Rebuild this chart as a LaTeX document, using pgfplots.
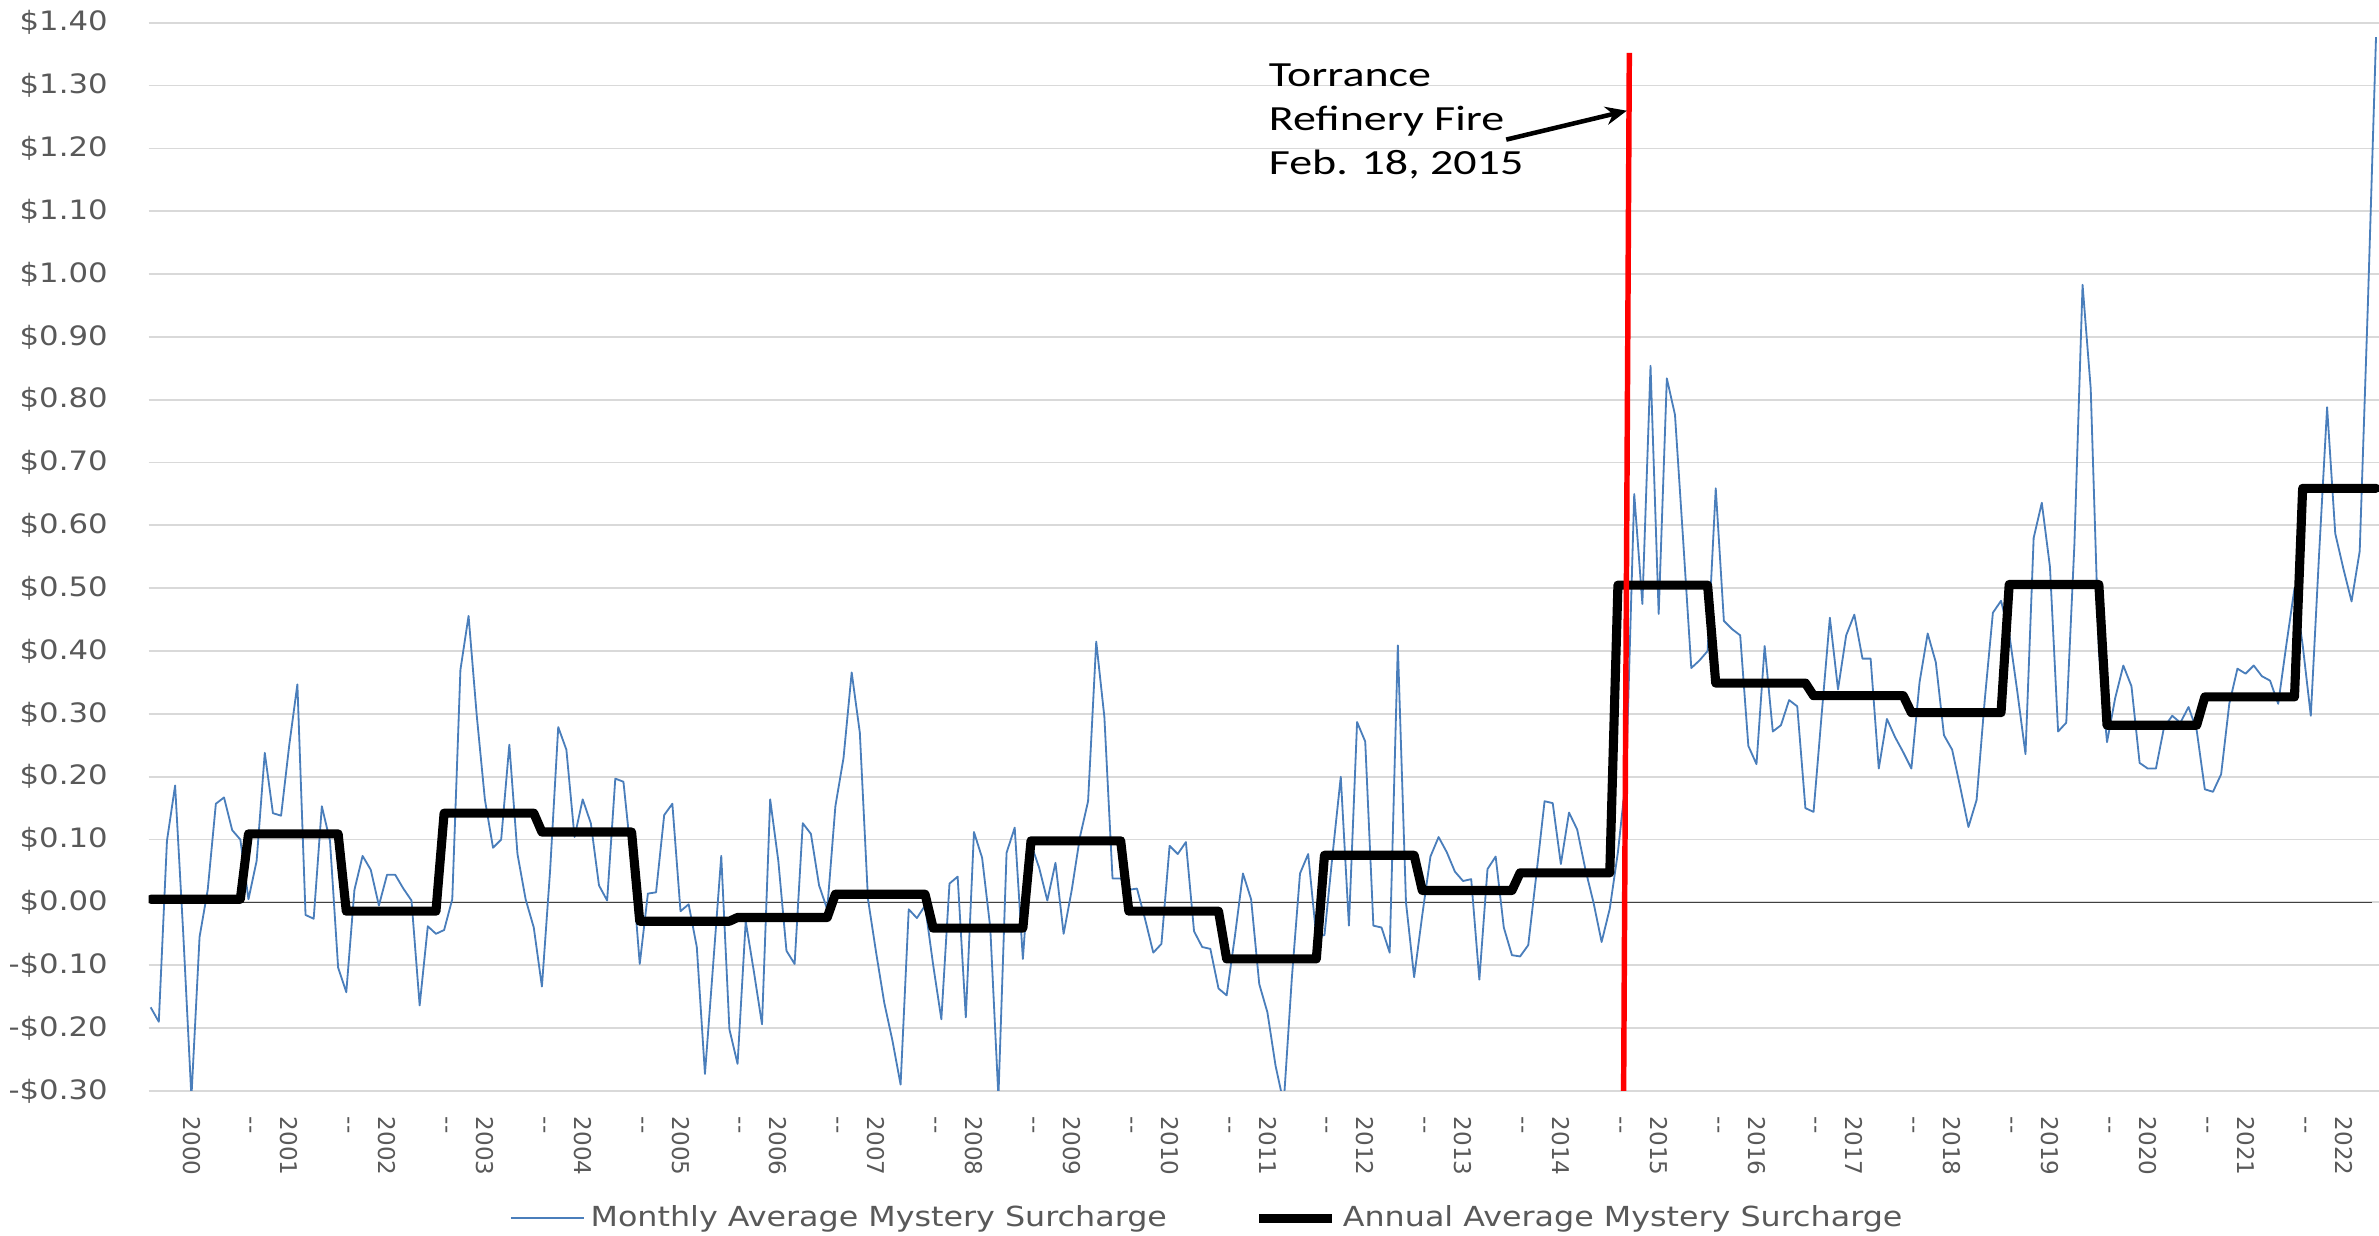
\documentclass[border=0pt]{standalone}
\usepackage{fontspec}
\setmainfont{DejaVu Sans}
\newfontfamily\annfont{Carlito}
\usepackage{graphicx}
\usepackage{pgfplots}
\usepackage{pgfplotstable}
\pgfplotsset{compat=1.18}
\usetikzlibrary{arrows.meta}
\definecolor{tickgray}{HTML}{595959}
\definecolor{gridgray}{HTML}{D9D9D9}
\definecolor{xlblue}{HTML}{4A7EBB}
\newcommand{\sx}[1]{\scalebox{1.15}[1]{#1}}
\newcommand{\dd}{-{}-}

\pgfplotstableread[row sep=\\]{
v\\
-0.167\\ -0.19\\ 0.098\\ 0.186\\ -0.05\\ -0.31\\ -0.055\\ 0.02\\ 0.157\\ 0.167\\ 0.115\\ 0.10\\
0.005\\ 0.066\\ 0.238\\ 0.142\\ 0.138\\ 0.25\\ 0.347\\ -0.02\\ -0.026\\ 0.153\\ 0.098\\ -0.104\\
-0.143\\ 0.02\\ 0.074\\ 0.052\\ -0.005\\ 0.044\\ 0.044\\ 0.022\\ 0.003\\ -0.164\\ -0.038\\ -0.05\\
-0.044\\ 0.005\\ 0.37\\ 0.456\\ 0.298\\ 0.164\\ 0.087\\ 0.10\\ 0.251\\ 0.077\\ 0.005\\ -0.04\\
-0.134\\ 0.05\\ 0.279\\ 0.243\\ 0.104\\ 0.164\\ 0.126\\ 0.027\\ 0.003\\ 0.197\\ 0.192\\ 0.066\\
-0.098\\ 0.014\\ 0.016\\ 0.139\\ 0.157\\ -0.014\\ -0.003\\ -0.071\\ -0.273\\ -0.10\\ 0.074\\ -0.202\\
-0.257\\ -0.03\\ -0.11\\ -0.194\\ 0.164\\ 0.066\\ -0.077\\ -0.098\\ 0.126\\ 0.109\\ 0.027\\ -0.011\\
0.153\\ 0.23\\ 0.366\\ 0.27\\ 0.005\\ -0.08\\ -0.16\\ -0.22\\ -0.29\\ -0.011\\ -0.025\\ -0.005\\
-0.10\\ -0.186\\ 0.03\\ 0.041\\ -0.183\\ 0.112\\ 0.071\\ -0.04\\ -0.31\\ 0.079\\ 0.119\\ -0.09\\
0.093\\ 0.055\\ 0.003\\ 0.063\\ -0.05\\ 0.02\\ 0.104\\ 0.161\\ 0.415\\ 0.295\\ 0.038\\ 0.038\\
0.02\\ 0.022\\ -0.027\\ -0.08\\ -0.066\\ 0.09\\ 0.077\\ 0.096\\ -0.046\\ -0.071\\ -0.074\\ -0.137\\
-0.148\\ -0.055\\ 0.046\\ 0.005\\ -0.13\\ -0.175\\ -0.26\\ -0.32\\ -0.12\\ 0.046\\ 0.077\\ -0.055\\
-0.052\\ 0.077\\ 0.2\\ -0.037\\ 0.287\\ 0.256\\ -0.037\\ -0.04\\ -0.08\\ 0.409\\ 0.0\\ -0.119\\
-0.02\\ 0.073\\ 0.104\\ 0.08\\ 0.049\\ 0.034\\ 0.037\\ -0.123\\ 0.053\\ 0.073\\ -0.04\\ -0.084\\
-0.086\\ -0.068\\ 0.045\\ 0.161\\ 0.158\\ 0.061\\ 0.143\\ 0.116\\ 0.053\\ 0.0\\ -0.063\\ -0.01\\
0.08\\ 0.2\\ 0.65\\ 0.475\\ 0.854\\ 0.459\\ 0.834\\ 0.776\\ 0.577\\ 0.373\\ 0.385\\ 0.4\\
0.659\\ 0.448\\ 0.435\\ 0.425\\ 0.249\\ 0.22\\ 0.408\\ 0.272\\ 0.282\\ 0.322\\ 0.312\\ 0.15\\
0.144\\ 0.3\\ 0.453\\ 0.339\\ 0.425\\ 0.458\\ 0.388\\ 0.388\\ 0.213\\ 0.292\\ 0.263\\ 0.239\\
0.213\\ 0.35\\ 0.428\\ 0.382\\ 0.266\\ 0.243\\ 0.183\\ 0.12\\ 0.163\\ 0.322\\ 0.461\\ 0.48\\
0.428\\ 0.335\\ 0.236\\ 0.58\\ 0.636\\ 0.534\\ 0.272\\ 0.286\\ 0.57\\ 0.983\\ 0.818\\ 0.4\\
0.255\\ 0.325\\ 0.377\\ 0.344\\ 0.222\\ 0.213\\ 0.213\\ 0.279\\ 0.297\\ 0.286\\ 0.311\\ 0.274\\
0.18\\ 0.176\\ 0.204\\ 0.316\\ 0.372\\ 0.364\\ 0.377\\ 0.36\\ 0.353\\ 0.316\\ 0.41\\ 0.5\\
0.41\\ 0.297\\ 0.55\\ 0.788\\ 0.587\\ 0.531\\ 0.479\\ 0.559\\ 0.951\\ 1.377\\
}\monthly

\begin{document}
\begin{tikzpicture}
\useasboundingbox (-49pt,-47.5pt) rectangle (735pt,359.5pt);
\begin{axis}[
  at={(0pt,0pt)}, anchor=south west,
  width=735pt, height=352pt, scale only axis,
  xmin=-0.242, xmax=273.37, ymin=-0.3, ymax=1.4,
  axis line style={draw=none},
  ymajorgrids, grid style={gridgray, line width=0.6pt},
  major tick length=0pt,
  ytick={-0.3,-0.2,-0.1,0,0.1,0.2,0.3,0.4,0.5,0.6,0.7,0.8,0.9,1.0,1.1,1.2,1.3,1.4},
  yticklabels={\sx{-\$0.30},\sx{-\$0.20},\sx{-\$0.10},\sx{\$0.00},\sx{\$0.10},\sx{\$0.20},\sx{\$0.30},\sx{\$0.40},\sx{\$0.50},\sx{\$0.60},\sx{\$0.70},\sx{\$0.80},\sx{\$0.90},\sx{\$1.00},\sx{\$1.10},\sx{\$1.20},\sx{\$1.30},\sx{\$1.40}},
  yticklabel style={font=\fontsize{8.8}{10}\selectfont, text=tickgray},
  yticklabel shift=10pt,
  xtick={5,12,17,24,29,36,41,48,53,60,65,72,77,84,89,96,101,108,113,120,125,132,137,144,149,156,161,168,173,180,185,192,197,204,209,216,221,228,233,240,245,252,257,264,269},
  xticklabels={2000,\dd,2001,\dd,2002,\dd,2003,\dd,2004,\dd,2005,\dd,2006,\dd,2007,\dd,2008,\dd,2009,\dd,2010,\dd,2011,\dd,2012,\dd,2013,\dd,2014,\dd,2015,\dd,2016,\dd,2017,\dd,2018,\dd,2019,\dd,2020,\dd,2021,\dd,2022},
  xticklabel style={rotate=-90, anchor=west, font=\fontsize{7.6}{9}\selectfont, text=tickgray},
  xticklabel shift=5pt,
  legend columns=2,
  legend style={at={(0.4755,-0.1193)}, anchor=center, draw=none, fill=none,
    font=\fontsize{9.1}{11}\selectfont, text=tickgray,
    /tikz/every even column/.append style={column sep=27pt}},
  legend image code/.code={\draw[#1, line cap=butt] (0pt,0pt) -- (24pt,0pt);},
]
\addplot[black!75, line width=0.5pt, forget plot] coordinates {(-0.242,0) (272.5,0)};
\addplot[xlblue, line width=0.6pt, line join=round] table[x expr=\coordindex, y=v] {\monthly};
\addlegendentry{\sx{Monthly Average Mystery Surcharge}}
\addplot[black, line width=3pt, line join=round, line cap=round] coordinates {
(0,0.005)(11,0.005)(12,0.109)(23,0.109)(24,-0.014)(35,-0.014)(36,0.142)(47,0.142)
(48,0.112)(59,0.112)(60,-0.030)(71,-0.030)(72,-0.024)(83,-0.024)(84,0.013)(95,0.013)
(96,-0.041)(107,-0.041)(108,0.098)(119,0.098)(120,-0.014)(131,-0.014)(132,-0.090)(143,-0.090)
(144,0.075)(155,0.075)(156,0.019)(167,0.019)(168,0.047)(179,0.047)(180,0.505)(191,0.505)
(192,0.349)(203,0.349)(204,0.329)(215,0.329)(216,0.302)(227,0.302)(228,0.506)(239,0.506)
(240,0.282)(251,0.282)(252,0.327)(263,0.327)(264,0.659)(273,0.659)};
\addlegendentry{\sx{Annual Average Mystery Surcharge}}
\addplot[red, line width=1.8pt, forget plot] coordinates {(181.4,1.352) (180.7,-0.30)};
\node[anchor=base west, inner sep=0pt] at (axis cs:137.1,1.299) {\scalebox{1.3}[1]{\annfont\fontsize{11.65}{14}\selectfont Torrance}};
\node[anchor=base west, inner sep=0pt] at (axis cs:137.1,1.229) {\scalebox{1.3}[1]{\annfont\fontsize{11.65}{14}\selectfont Refinery Fire}};
\node[anchor=base west, inner sep=0pt] at (axis cs:137.1,1.159) {\scalebox{1.3}[1]{\annfont\fontsize{11.65}{14}\selectfont Feb. 18, 2015}};
\draw[line width=1.5pt, -{Stealth[length=7pt,width=6pt]}] (axis cs:166.3,1.214) -- (axis cs:181.1,1.26);
\end{axis}
\end{tikzpicture}
\end{document}
